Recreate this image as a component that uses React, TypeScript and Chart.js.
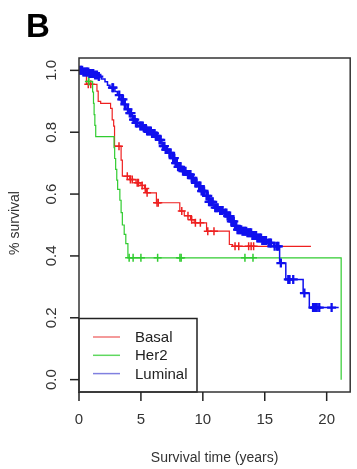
import React, { useEffect, useRef } from "react";
import { Chart, registerables } from "chart.js";

Chart.register(...registerables);

// Kaplan–Meier step points: [time (years), survival after drop]
const basalSteps: [number, number][] = [
  [0, 1.0], [0.6, 0.955], [1.45, 0.933], [1.55, 0.9], [1.75, 0.893], [2.55, 0.877],
  [2.68, 0.84], [2.8, 0.82], [2.87, 0.755], [3.4, 0.71], [3.5, 0.658], [4.1, 0.647],
  [4.6, 0.637], [5.0, 0.628], [5.3, 0.618], [5.45, 0.604], [6.25, 0.572], [8.14, 0.545],
  [8.5, 0.53], [9.0, 0.517], [9.3, 0.507], [10.3, 0.48], [12.14, 0.437], [12.4, 0.431],
  [18.73, 0.431],
];
const her2Steps: [number, number][] = [
  [0, 1.0], [0.75, 0.964], [1.1, 0.93], [1.17, 0.893], [1.22, 0.857], [1.28, 0.822],
  [1.35, 0.786], [2.83, 0.75], [2.88, 0.715], [2.96, 0.68], [3.05, 0.645], [3.12, 0.615],
  [3.3, 0.58], [3.4, 0.54], [3.5, 0.5], [3.65, 0.47], [3.78, 0.44], [3.95, 0.394],
  [21.17, 0.0],
];
const luminalSteps: [number, number][] = [
  [0, 1.0], [0.3, 0.995], [0.8, 0.99], [1.2, 0.985], [1.5, 0.98], [1.8, 0.972],
  [2.1, 0.963], [2.3, 0.952], [2.5, 0.944], [2.9, 0.932], [3.1, 0.92], [3.4, 0.906],
  [3.6, 0.89], [3.8, 0.874], [4.0, 0.862], [4.3, 0.841], [4.6, 0.83], [4.85, 0.82],
  [5.2, 0.812], [5.5, 0.804], [5.9, 0.796], [6.2, 0.788], [6.4, 0.775], [6.7, 0.755],
  [7.0, 0.744], [7.2, 0.733], [7.5, 0.716], [7.75, 0.7], [8.0, 0.688], [8.3, 0.674],
  [8.7, 0.663], [9.1, 0.652], [9.35, 0.636], [9.6, 0.626], [9.9, 0.61], [10.15, 0.594],
  [10.5, 0.575], [10.9, 0.556], [11.3, 0.547], [11.7, 0.539], [12.0, 0.529], [12.3, 0.512],
  [12.55, 0.497], [12.8, 0.485], [13.2, 0.48], [13.6, 0.475], [14.0, 0.466], [14.4, 0.458],
  [14.8, 0.45], [15.2, 0.442], [15.7, 0.431], [16.2, 0.377], [16.7, 0.324], [18.1, 0.28],
  [18.6, 0.233], [20.97, 0.233],
];

// censoring times (years)
const basalCensor = [0.75, 0.95, 3.23, 3.9, 4.15, 4.3, 4.7, 4.8, 5.1, 5.35, 5.5, 6.3, 6.4,
  8.3, 8.8, 9.1, 9.4, 9.8, 10.4, 10.9, 12.6, 12.9, 13.7, 13.9, 14.1];
const her2Censor = [0.8, 4.05, 4.37, 5.0, 6.35, 8.15, 8.25, 13.4, 14.05];
const luminalCensor = [0.05, 0.15, 0.25, 0.35, 0.45, 0.55, 0.65, 0.75, 0.85, 0.95, 1.05, 1.15,
  1.3, 1.45, 1.6, 2.7, 2.75, 3.25, 3.45, 3.55, 3.7, 3.95, 4.1, 4.2, 4.4, 4.5, 4.6, 4.7, 4.95,
  5.05, 5.15, 5.3, 5.4, 5.5, 5.6, 5.7, 5.8, 5.9, 6.0, 6.1, 6.2, 6.3, 6.5, 6.6, 6.8, 6.9, 7.0,
  7.1, 7.3, 7.4, 7.6, 7.7, 7.8, 7.9, 8.0, 8.1, 8.2, 8.4, 8.5, 8.6, 8.8, 8.9, 9.0, 9.1, 9.2,
  9.4, 9.5, 9.7, 9.8, 9.9, 10.0, 10.1, 10.3, 10.4, 10.5, 10.6, 10.7, 10.8, 11.0, 11.1, 11.2,
  11.4, 11.5, 11.6, 11.8, 11.9, 12.0, 12.1, 12.2, 12.3, 12.4, 12.5, 12.6, 12.7, 12.8, 12.9,
  13.0, 13.1, 13.2, 13.3, 13.4, 13.5, 13.6, 13.7, 13.8, 13.9, 14.0, 14.1, 14.2, 14.3, 14.4,
  14.5, 14.6, 14.7, 14.8, 14.9, 15.0, 15.1, 15.3, 15.4, 15.5, 15.8, 16.0, 16.1, 16.3, 16.9,
  17.0, 17.3, 18.2, 18.9, 19.0, 19.1, 19.2, 19.4, 20.4];

const seriesNames = ["Basal", "Her2", "Luminal"];
const seriesColors = ["#ee2020", "#30cc30", "#1010ee"];
const legendColors = ["#f07878", "#60d860", "#8080e0"];
const xTicks = [0, 5, 10, 15, 20];
const yTicks = [0, 0.2, 0.4, 0.6, 0.8, 1.0];
const xTitle = "Survival time (years)";
const yTitle = "% survival";
const panelLabel = "B";

function levelAt(steps: [number, number][], t: number): number {
  let v = steps[0][1];
  for (const [st, sv] of steps) {
    if (st <= t) v = sv;
    else break;
  }
  return v;
}

export default function App() {
  const ref = useRef<HTMLCanvasElement | null>(null);
  useEffect(() => {
    if (!ref.current) return;
    const allSteps = [basalSteps, her2Steps, luminalSteps];
    const allCensor = [basalCensor, her2Censor, luminalCensor];
    const curveSets: any[] = allSteps.map((steps, i) => ({
      type: "line",
      label: seriesNames[i],
      data: steps.map(([x, y]) => ({ x, y })),
      stepped: "before",
      borderColor: seriesColors[i],
      borderWidth: i === 2 ? 1.5 : 1.2,
      pointRadius: 0,
      fill: false,
      order: 3 - i,
    }));
    const censorSets: any[] = allCensor.map((ts, i) => ({
      type: "scatter",
      label: seriesNames[i] + " censored",
      data: ts.map((t) => ({ x: t, y: levelAt(allSteps[i], t) })),
      showLine: false,
      pointStyle: "cross",
      pointRadius: i === 2 ? 4.5 : 4,
      borderColor: seriesColors[i],
      backgroundColor: seriesColors[i],
      pointBorderWidth: i === 2 ? 2.3 : 1.5,
      borderWidth: i === 2 ? 2.3 : 1.5,
      order: 3 - i,
    }));

    const overlay = {
      id: "overlay",
      afterDraw(chart: any) {
        const ctx = chart.ctx;
        const { left, top, right, bottom } = chart.chartArea;
        const xs = chart.scales.x;
        const ys = chart.scales.y;
        ctx.save();
        // legend
        const lgTop = 318.5;
        const lgRight = 197;
        ctx.fillStyle = "#ffffff";
        ctx.fillRect(left, lgTop, lgRight - left, bottom - lgTop);
        ctx.strokeStyle = "#222";
        ctx.lineWidth = 1.5;
        ctx.strokeRect(left, lgTop, lgRight - left, bottom - lgTop);
        ctx.font = "15px 'Liberation Sans', Arial, sans-serif";
        ctx.textAlign = "left";
        ctx.textBaseline = "middle";
        seriesNames.forEach((n, i) => {
          const y = 337 + i * 18.3;
          ctx.strokeStyle = legendColors[i];
          ctx.lineWidth = 1.5;
          ctx.beginPath();
          ctx.moveTo(93, y);
          ctx.lineTo(120, y);
          ctx.stroke();
          ctx.fillStyle = "#222";
          ctx.fillText(n, 135, y + 1);
        });
        // box
        ctx.strokeStyle = "#333";
        ctx.lineWidth = 1.5;
        ctx.strokeRect(left, top, right - left, bottom - top);
        // y ticks
        ctx.strokeStyle = "#222";
        ctx.lineWidth = 1.5;
        ctx.fillStyle = "#333";
        ctx.font = "15px 'Liberation Sans', Arial, sans-serif";
        yTicks.forEach((v) => {
          const y = ys.getPixelForValue(v);
          ctx.beginPath();
          ctx.moveTo(left, y);
          ctx.lineTo(left - 9, y);
          ctx.stroke();
          ctx.save();
          ctx.translate(52, y);
          ctx.rotate(-Math.PI / 2);
          ctx.textAlign = "center";
          ctx.textBaseline = "middle";
          ctx.fillText(v.toFixed(1), 0, 0);
          ctx.restore();
        });
        // x ticks
        xTicks.forEach((v) => {
          const x = xs.getPixelForValue(v);
          ctx.beginPath();
          ctx.moveTo(x, bottom);
          ctx.lineTo(x, bottom + 9);
          ctx.stroke();
          ctx.textAlign = "center";
          ctx.textBaseline = "middle";
          ctx.fillText(String(v), x, 420);
        });
        // titles
        ctx.font = "14px 'Liberation Sans', Arial, sans-serif";
        ctx.textAlign = "center";
        ctx.textBaseline = "middle";
        ctx.fillText(xTitle, (left + right) / 2, 458);
        ctx.save();
        ctx.translate(15, 223);
        ctx.rotate(-Math.PI / 2);
        ctx.fillText(yTitle, 0, 0);
        ctx.restore();
        // panel label
        ctx.fillStyle = "#000";
        ctx.font = "bold 33px 'Liberation Sans', Arial, sans-serif";
        ctx.textAlign = "left";
        ctx.textBaseline = "alphabetic";
        ctx.fillText(panelLabel, 26, 37);
        ctx.restore();
      },
    };

    const chart = new Chart(ref.current, {
      type: "line",
      data: { datasets: [...curveSets, ...censorSets] },
      options: {
        animation: false,
        responsive: false,
        devicePixelRatio: 1,
        layout: { padding: { left: 79, top: 58, right: 2, bottom: 77 } },
        plugins: { legend: { display: false }, tooltip: { enabled: false } },
        scales: {
          x: { type: "linear", min: 0, max: 21.9, display: false },
          y: { type: "linear", min: -0.04, max: 1.04, display: false },
        },
      },
      plugins: [overlay],
    } as any);
    return () => chart.destroy();
  }, []);
  return (
    <div style={{ position: "absolute", left: 0, top: 0, width: 357, height: 469, background: "#fff" }}>
      <canvas ref={ref} width={357} height={469} />
    </div>
  );
}
